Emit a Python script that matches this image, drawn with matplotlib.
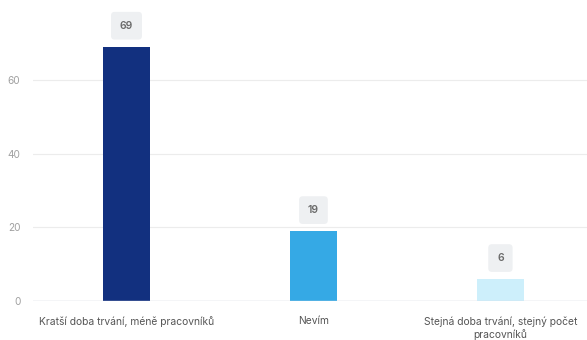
import matplotlib.pyplot as plt

categories = ["Kratší doba trvání, méně pracovníků", "Nevím",
              "Stejná doba trvání, stejný počet\npracovníků"]
values = [69, 19, 6]
colors = ["#12307f", "#35a9e5", "#cdeffb"]
yticks = [0, 20, 40, 60]

plt.rcParams['font.family'] = ['Inter', 'DejaVu Sans']

fig = plt.figure(figsize=(5.87, 3.40), dpi=100)
ax = fig.add_axes([33 / 587, 39 / 340, 1 - 33 / 587, 295 / 340])

x = range(len(categories))
bars = ax.bar(x, values, width=0.25, color=colors, zorder=3)

# value labels in light grey rounded boxes
for xi, v in zip(x, values):
    ax.annotate(str(v), (xi, v), xytext=(0, 15), textcoords="offset points",
                ha="center", va="center", fontsize=7.5, fontweight="semibold", color="#6a6a6a",
                bbox=dict(boxstyle="round,pad=0.85,rounding_size=0.35", fc="#eef0f2", ec="none"))

ax.set_xlim(-0.5, 2.463)
ax.set_ylim(0, 80)
ax.set_yticks(yticks)
ax.set_xticks(list(x))
ax.set_xticklabels(categories, linespacing=1.25)
ax.grid(axis="y", color="#ececec", linewidth=0.8, zorder=0)
ax.axhline(0, color="#d3d8e3", linewidth=1, zorder=4)
for s in ax.spines.values():
    s.set_visible(False)
ax.tick_params(axis="both", length=0)
ax.tick_params(axis="y", labelsize=7.3, labelcolor="#a0a0a0", pad=9)
ax.tick_params(axis="x", labelsize=7.4, labelcolor="#555555", pad=11)

fig.savefig("out.png", dpi=100)
